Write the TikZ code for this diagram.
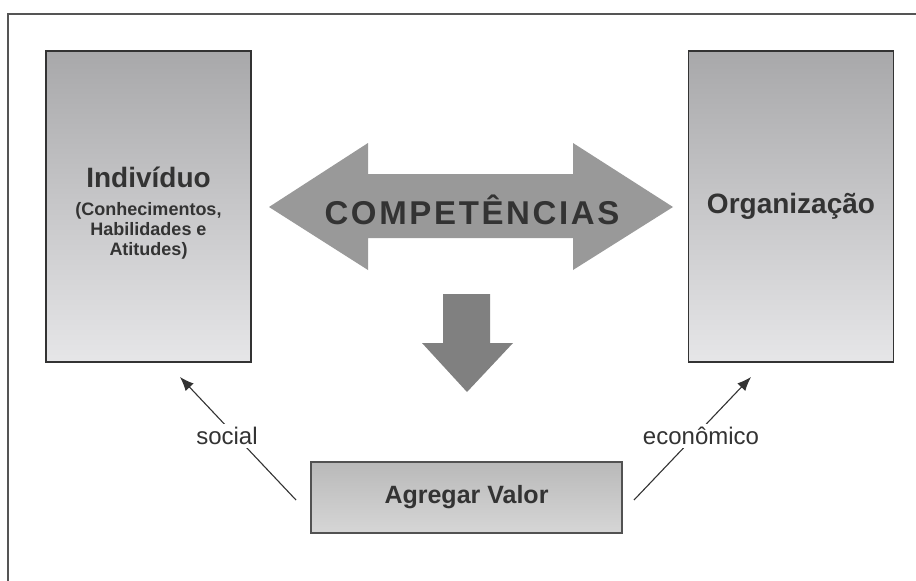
\documentclass[tikz,border=0pt]{standalone}
\usepackage{fontspec}
\setmainfont{Liberation Sans}
\usetikzlibrary{arrows.meta}
\definecolor{inkgray}{HTML}{333333}
\definecolor{framegray}{HTML}{555555}
\definecolor{boxtop}{HTML}{A8A8AA}
\definecolor{boxbottom}{HTML}{E6E6E8}
\definecolor{valuetop}{HTML}{B9B9B9}
\definecolor{valuebottom}{HTML}{D6D6D6}
\definecolor{wideshape}{HTML}{999999}
\definecolor{downshape}{HTML}{808080}

\begin{document}
\begin{tikzpicture}[x=1pt, y=-1pt,
	pillar/.style={rectangle, draw=inkgray, line width=1.3pt, top color=boxtop, bottom color=boxbottom, minimum width=205pt, minimum height=311pt, align=center, text=inkgray, font=\bfseries\fontsize{28}{30}\selectfont},
	valuebox/.style={rectangle, draw=inkgray!85, line width=1.3pt, top color=valuetop, bottom color=valuebottom, minimum width=311pt, minimum height=71pt, text=inkgray, font=\bfseries\fontsize{25}{30}\selectfont},
	flow/.style={-{Latex[length=14pt,width=11pt]}, line width=1.1pt, draw=inkgray},
	flowlabel/.style={fill=white, inner sep=3pt, text=inkgray, font=\fontsize{24}{28}\selectfont},
	]
	\useasboundingbox (0, 0) rectangle (916, 581);
	\draw[framegray, line width=1.3pt] (8, 581) -- (8, 14) -- (916, 14);

	\node[pillar] at (148.5, 206.5) (individuo) {\rule{0pt}{33pt}Indivíduo\\[-2pt]{\fontsize{18}{20}\selectfont (Conhecimentos,}\\[-10pt]{\fontsize{18}{20}\selectfont Habilidades e}\\[-10pt]{\fontsize{18}{20}\selectfont Atitudes)}};
	\node[pillar] at (791, 206.5) (organizacao) {Organização};
	\node[valuebox] at (466.5, 497.5) (valor) {Agregar Valor};

	\fill[wideshape] (269, 207) -- (368, 143) -- (368, 174) -- (573, 174) -- (573, 143) -- (673, 207) -- (573, 270) -- (573, 238) -- (368, 238) -- (368, 270) -- cycle;
	\node[anchor=base, text=inkgray, font=\bfseries\fontsize{33}{36}\selectfont\addfontfeatures{LetterSpace=8}] at (472, 224) (competencias) {COMPETÊNCIAS};
	\fill[downshape] (443, 294) -- (490, 294) -- (490, 343) -- (513, 343) -- (467, 392) -- (422, 343) -- (443, 343) -- cycle;

	\coordinate (socialstart) at (296, 500);
	\coordinate (socialend) at (180, 377);
	\coordinate (econstart) at (634, 500);
	\coordinate (econend) at (751, 377);
	\draw[flow] (socialstart) to (socialend);
	\draw[flow] (econstart) to (econend);
	\node[flowlabel] at (227, 436) (social) {social};
	\node[flowlabel] at (701, 436) (economico) {econômico};
\end{tikzpicture}
\end{document}
